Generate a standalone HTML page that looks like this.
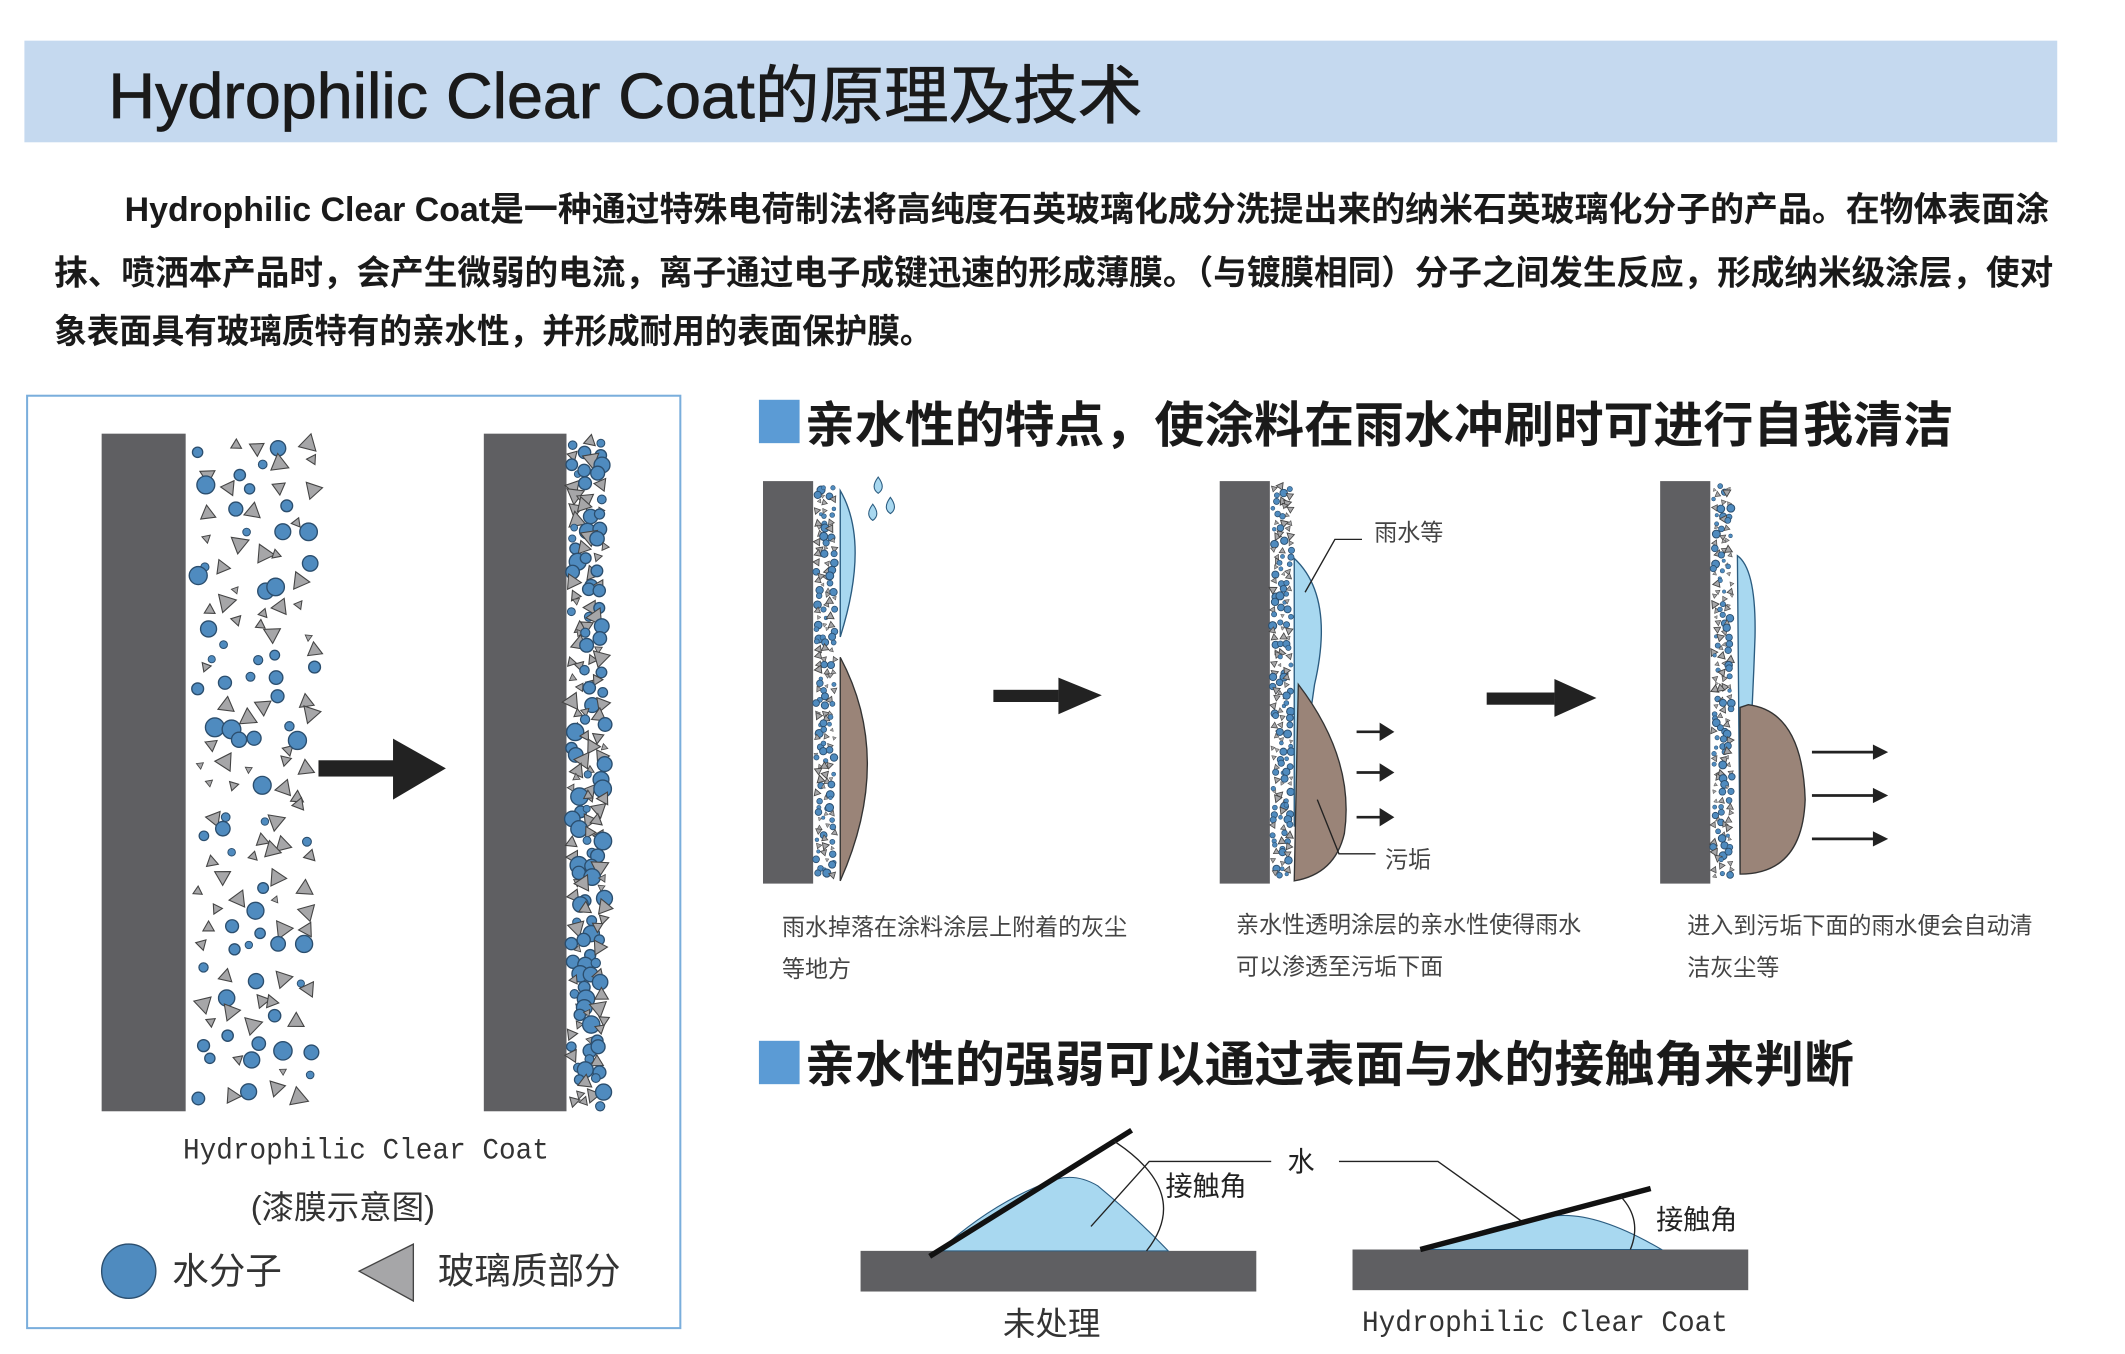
<!DOCTYPE html>
<html><head><meta charset="utf-8"><style>
html,body{margin:0;padding:0;background:#fff;overflow:hidden}
svg{display:block}
text{font-family:"Liberation Sans","Noto Sans CJK SC",sans-serif;}
.h{font-weight:bold;fill:#1a1a1a}
.m{font-family:"Liberation Mono","Noto Sans CJK SC",monospace;fill:#333}
.c{fill:#444;font-size:17px}
</style></head><body>
<svg id="s" width="2125" height="1354" viewBox="0 0 1568 999.1" preserveAspectRatio="none" xmlns="http://www.w3.org/2000/svg">
<rect x="0" y="0" width="1568" height="1000" fill="#fff"/>
<rect x="18" y="30" width="1500" height="75" fill="#c5d9ef"/>
<text x="80" y="87" font-size="47" fill="#1a1a1a" stroke="#1a1a1a" stroke-width="0.6" textLength="763" lengthAdjust="spacingAndGlyphs">Hydrophilic Clear Coat的原理及技术</text>
<text x="92" y="163" font-size="25" class="h" textLength="1420" lengthAdjust="spacingAndGlyphs">Hydrophilic Clear Coat是一种通过特殊电荷制法将高纯度石英玻璃化成分洗提出来的纳米石英玻璃化分子的产品。在物体表面涂</text>
<text x="40" y="210" font-size="25" class="h" textLength="1475" lengthAdjust="spacingAndGlyphs">抹、喷洒本产品时，会产生微弱的电流，离子通过电子成键迅速的形成薄膜。（与镀膜相同）分子之间发生反应，形成纳米级涂层，使对</text>
<text x="40" y="253" font-size="25" class="h" textLength="648" lengthAdjust="spacingAndGlyphs">象表面具有玻璃质特有的亲水性，并形成耐用的表面保护膜。</text>

<rect x="20" y="292" width="482" height="688" fill="none" stroke="#7aaedc" stroke-width="1.5"/>
<rect x="75" y="320" width="62" height="500" fill="#5f5f62"/>
<rect x="357" y="320" width="61" height="500" fill="#5f5f62"/>
<g id="p1"></g><g id="p2"></g>
<rect x="235" y="561" width="57" height="12" fill="#222"/>
<polygon points="290,545 329,567 290,590" fill="#222"/>
<text x="135" y="855" class="m" font-size="22" textLength="270" lengthAdjust="spacingAndGlyphs">Hydrophilic Clear Coat</text>
<text x="185" y="899" font-size="24" fill="#333">(漆膜示意图)</text>
<circle cx="95" cy="938" r="20" fill="#4f8bbf" stroke="#2b4e6e" stroke-width="1"/>
<text x="127" y="947" font-size="27" fill="#333">水分子</text>
<polygon points="305,918 305,960 265,938" fill="#a6a6a8" stroke="#444"/>
<text x="323" y="947" font-size="27" fill="#333">玻璃质部分</text>

<rect x="560" y="295" width="30" height="32" fill="#5b9bd5"/>
<text x="594" y="326" font-size="36" class="h" textLength="847" lengthAdjust="spacingAndGlyphs">亲水性的特点，使涂料在雨水冲刷时可进行自我清洁</text>

<rect x="563" y="355" width="37" height="297" fill="#5f5f62"/>
<rect x="900" y="355" width="37" height="297" fill="#5f5f62"/>
<rect x="1225" y="355" width="37" height="297" fill="#5f5f62"/>
<g id="p3"></g>
<path d="M620,362 Q642,400 620,470 Z" fill="#a8d8f0" stroke="#2b5c80" stroke-width="1"/>
<path d="M620,485 Q660,560 620,650 Z" fill="#9a8478" stroke="#333" stroke-width="1"/>
<path d="M648,352 q-6,8 0,12 q6,-4 0,-12Z M644,372 q-6,8 0,12 q6,-4 0,-12Z M657,367 q-6,8 0,12 q6,-4 0,-12Z" fill="#a8d8f0" stroke="#2b5c80" stroke-width="0.8"/>
<path d="M955,412 Q985,440 970,505 Q962,560 955,610 Z" fill="#a8d8f0" stroke="#2b5c80" stroke-width="1"/>
<path d="M958,505 Q1000,560 992,615 Q985,645 955,650 Z" fill="#9a8478" stroke="#333" stroke-width="1"/>
<path d="M1282,410 Q1296,420 1295,470 Q1292,560 1284,645 Z" fill="#a8d8f0" stroke="#2b5c80" stroke-width="1"/>
<path d="M1290,520 Q1330,525 1332,590 Q1330,645 1284,645 L1284,522 Z" fill="#9a8478" stroke="#333" stroke-width="1"/>
<polyline points="1005,398 985,398 963,437" fill="none" stroke="#222" stroke-width="1"/>
<text x="1014" y="399" class="c">雨水等</text>
<polyline points="1015,630 988,630 972,590" fill="none" stroke="#222" stroke-width="1"/>
<text x="1022" y="640" class="c">污垢</text>
<rect x="733" y="509" width="48" height="9" fill="#222"/><polygon points="781,500 813,513 781,527" fill="#222"/>
<rect x="1097" y="511" width="50" height="9" fill="#222"/><polygon points="1147,501 1178,515 1147,529" fill="#222"/>
<g stroke="#222" stroke-width="2" fill="#222">
<line x1="1001" y1="540" x2="1020" y2="540"/><polygon points="1019,535 1027,540 1019,545"/>
<line x1="1001" y1="570" x2="1020" y2="570"/><polygon points="1019,565 1027,570 1019,575"/>
<line x1="1001" y1="603" x2="1020" y2="603"/><polygon points="1019,598 1027,603 1019,608"/>
<line x1="1337" y1="555" x2="1384" y2="555"/><polygon points="1383,551 1391,555 1383,559"/>
<line x1="1337" y1="587" x2="1384" y2="587"/><polygon points="1383,583 1391,587 1383,591"/>
<line x1="1337" y1="619" x2="1384" y2="619"/><polygon points="1383,615 1391,619 1383,623"/>
</g>
<text x="577" y="690" class="c">雨水掉落在涂料涂层上附着的灰尘</text>
<text x="577" y="721" class="c">等地方</text>
<text x="912" y="688" class="c">亲水性透明涂层的亲水性使得雨水</text>
<text x="912" y="719" class="c">可以渗透至污垢下面</text>
<text x="1245" y="689" class="c">进入到污垢下面的雨水便会自动清</text>
<text x="1245" y="720" class="c">洁灰尘等</text>

<rect x="560" y="768" width="30" height="32" fill="#5b9bd5"/>
<text x="594" y="798" font-size="36" class="h" textLength="774" lengthAdjust="spacingAndGlyphs">亲水性的强弱可以通过表面与水的接触角来判断</text>

<rect x="635" y="923" width="292" height="30" fill="#5f5f62"/>
<path d="M693,923 Q735,885 780,870 Q795,866 810,875 Q840,900 862,923 Z" fill="#a8d8f0" stroke="#2b5c80" stroke-width="0.8"/>
<line x1="686" y1="927" x2="835" y2="834" stroke="#111" stroke-width="4"/>
<path d="M822,842 Q880,880 846,923" fill="none" stroke="#222" stroke-width="1"/>
<polyline points="805,905 848,857 938,857" fill="none" stroke="#222" stroke-width="1"/>
<text x="860" y="882" font-size="20" fill="#222">接触角</text>
<text x="950" y="864" font-size="20" fill="#222">水</text>
<polyline points="988,857 1061,857 1138,912" fill="none" stroke="#222" stroke-width="1"/>
<rect x="998" y="922" width="292" height="30" fill="#5f5f62"/>
<path d="M1055,922 Q1110,900 1150,897 Q1180,895 1226,922 Z" fill="#a8d8f0" stroke="#2b5c80" stroke-width="0.8"/>
<line x1="1048" y1="922" x2="1218" y2="877" stroke="#111" stroke-width="4"/>
<path d="M1196,883 Q1212,900 1203,922" fill="none" stroke="#222" stroke-width="1"/>
<text x="1222" y="907" font-size="20" fill="#222">接触角</text>
<text x="740" y="985" font-size="24" fill="#333">未处理</text>
<text x="1005" y="982" class="m" font-size="22" textLength="270" lengthAdjust="spacingAndGlyphs">Hydrophilic Clear Coat</text>
</svg>
<script>
(function(){
var seed=7;function r(){seed=(seed*16807)%2147483647;return seed/2147483647;}
var NS="http://www.w3.org/2000/svg";
function circ(g,x,y,rad){var c=document.createElementNS(NS,"circle");c.setAttribute("cx",x);c.setAttribute("cy",y);c.setAttribute("r",rad);c.setAttribute("fill","#4f8bbf");c.setAttribute("stroke","#2b4e6e");c.setAttribute("stroke-width",Math.min(1,rad/4));g.appendChild(c);}
function tri(g,x,y,s){var a=r()*6.28,p=[];for(var i=0;i<3;i++){var b=a+i*2.094;p.push((x+s*Math.cos(b)).toFixed(1)+","+(y+s*Math.sin(b)).toFixed(1));}
var t=document.createElementNS(NS,"polygon");t.setAttribute("points",p.join(" "));t.setAttribute("fill","#a6a6a8");t.setAttribute("stroke","#444");t.setAttribute("stroke-width",Math.min(0.8,s/5));g.appendChild(t);}
function grid(id,x0,x1,y0,y1,dx,dy,rmin,rmax){var g=document.getElementById(id);
for(var y=y0;y<=y1;y+=dy){for(var x=x0;x<=x1;x+=dx){var px=x+(r()-0.5)*dx*0.8,py=y+(r()-0.5)*dy*0.8,s=rmin+r()*(rmax-rmin);if(r()<0.5)circ(g,px,py,s);else tri(g,px,py,s*1.15);}}}
grid("p1",153,228,328,812,18,17,2.5,7);
grid("p2",425,444,326,814,9,8,2.5,6.5);
grid("p3",604,616,360,648,5,5,1.3,3);
grid("p3",941,953,360,648,5,5,1.3,3);
grid("p3",1266,1278,360,648,5,5,1.3,3);
})();
</script>
</body></html>
